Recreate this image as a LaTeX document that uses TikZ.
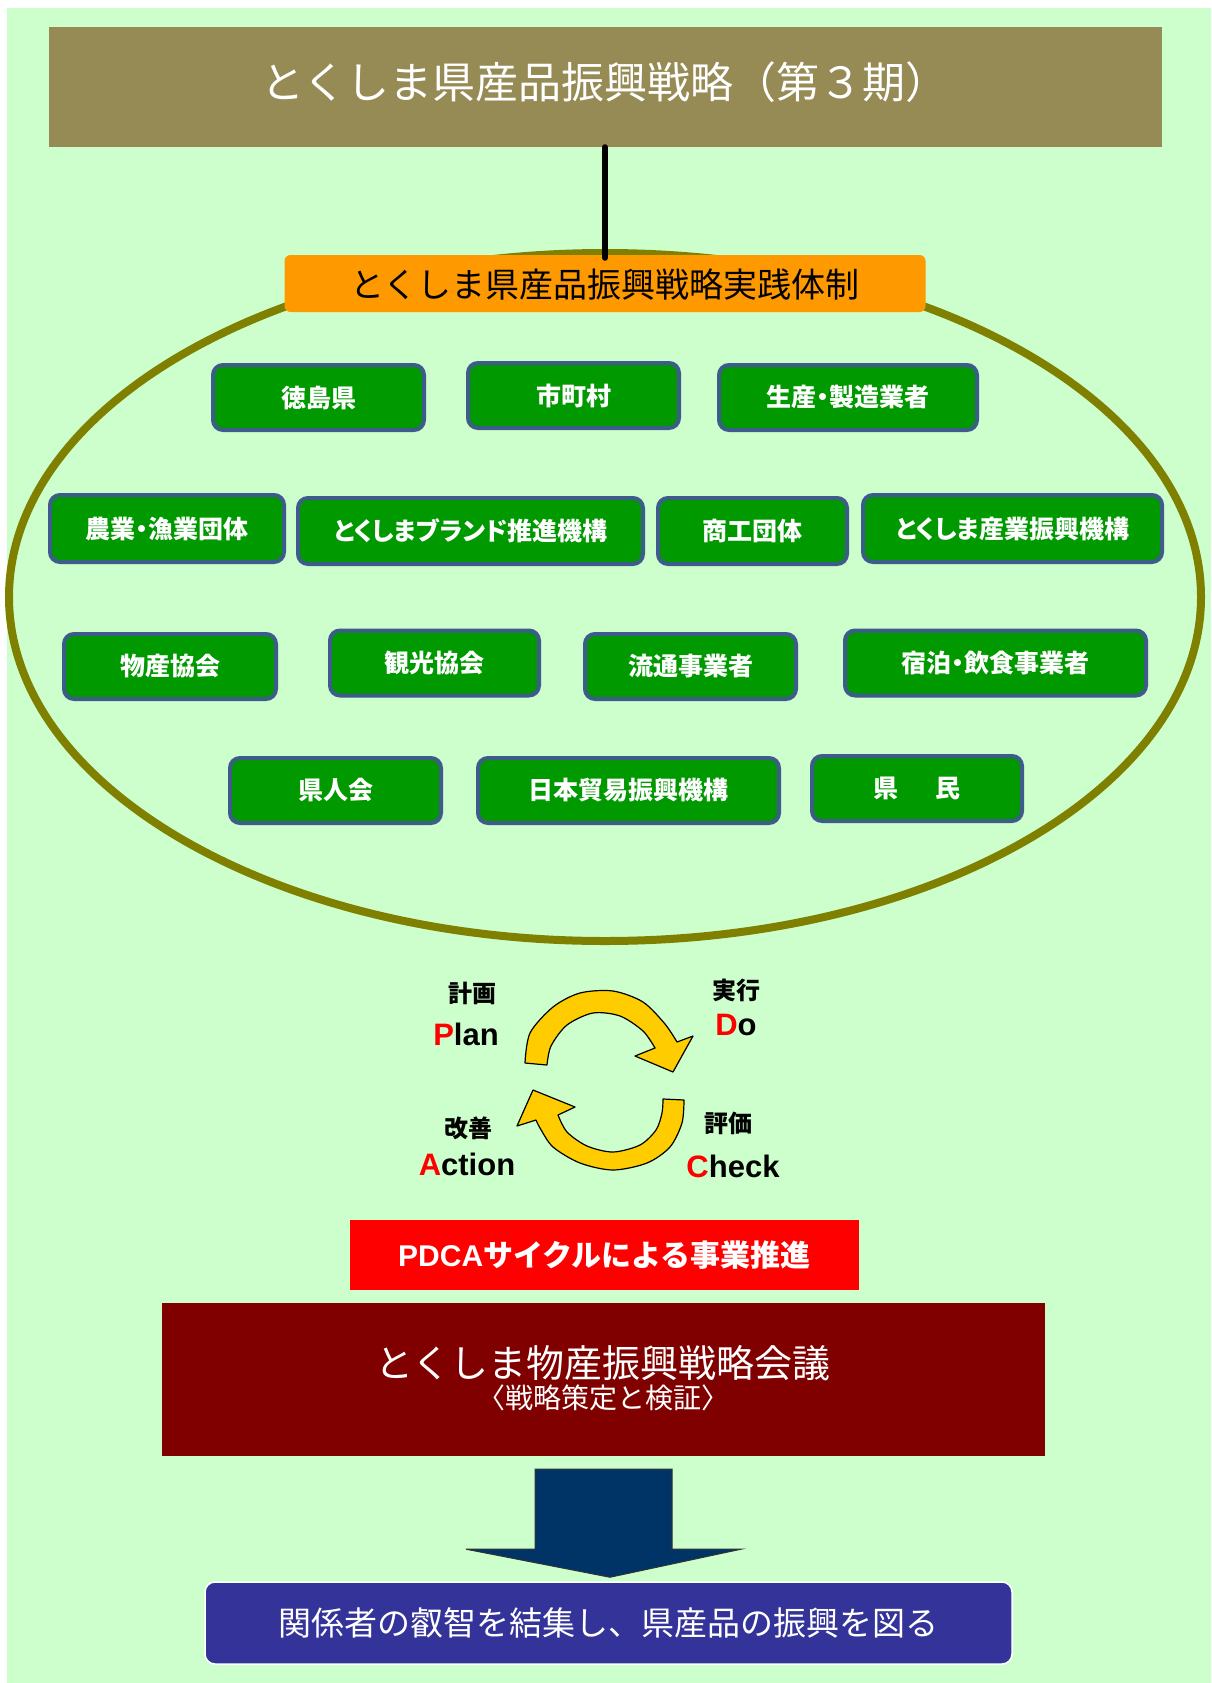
\documentclass[tikz,border=0pt]{standalone}
\usepackage{fontspec}
\setmainfont{Noto Sans CJK JP}
\newfontfamily\lat{Liberation Sans}
\newfontfamily\jpp[RawFeature={+palt}]{Noto Sans CJK JP}
\usetikzlibrary{shapes.geometric}
\definecolor{bggreen}{HTML}{CCFFCC}
\definecolor{titlebg}{HTML}{968A55}
\definecolor{orangebg}{HTML}{FF9900}
\definecolor{ringcol}{HTML}{808000}
\definecolor{gfill}{HTML}{009900}
\definecolor{gborder}{HTML}{3E5C8A}
\definecolor{redbg}{HTML}{FF0000}
\definecolor{darkred}{HTML}{800000}
\definecolor{navy}{HTML}{003366}
\definecolor{bluebg}{HTML}{333399}
\definecolor{arrowyellow}{HTML}{FFCC00}
\newcommand{\fs}[1]{\fontsize{#1pt}{#1pt}\selectfont}
\begin{document}
\begin{tikzpicture}[x=1pt,y=-1pt,
  gbox/.style={draw=gborder, line width=4pt, fill=gfill, rounded corners=10pt,
    text=white, font=\jpp\bfseries\fs{25}, inner sep=0pt, minimum height=65pt},
  pdcajp/.style={font=\bfseries\fs{24}, text=black, inner sep=0pt},
  pdcaen/.style={font=\lat\bfseries\fs{31}, text=black, inner sep=0pt, anchor=base},
  yarrow/.style={fill=arrowyellow, draw=black, line width=1.2pt, line join=round}
]
\useasboundingbox (0,0) rectangle (1211,1683);
\fill[white] (0,0) rectangle (1211,1683);
\fill[bggreen] (7,8) rectangle (1211,1683);

% title
\node[fill=titlebg, minimum width=1113pt, minimum height=120pt, inner sep=0pt] (title) at (605,87) {};
\node[text=white, font=\fs{43}, inner sep=0pt] (titletext) at (605,82) {とくしま県産品振興戦略（第３期）};

% ring
\node[draw=ringcol, line width=8pt, ellipse, minimum width=1192pt, minimum height=688pt, inner sep=0pt] (ring) at (605,597) {};

% orange box
\node[fill=orangebg, rounded corners=6pt, minimum width=641pt, minimum height=57pt, inner sep=0pt] (orange) at (605,283.5) {};
\node[text=black, font=\fs{34}, inner sep=0pt] (orangetext) at (605,285) {とくしま県産品振興戦略実践体制};
\draw[line width=6pt, line cap=round] (title.south) -- ([yshift=-3pt]orange.north);

% green boxes
\node[gbox, minimum width=211pt] (b1) at (318.5,397.5) {徳島県};
\node[gbox, minimum width=211pt] (b2) at (573.5,395.5) {市町村};
\node[gbox, minimum width=258pt] (b3) at (848,397.5) {生産・製造業者};
\node[gbox, minimum width=234pt, minimum height=67pt] (b4) at (167,528.5) {農業・漁業団体};
\node[gbox, minimum width=345pt, minimum height=66pt] (b5) at (470.5,531) {とくしまブランド推進機構};
\node[gbox, minimum width=189pt, minimum height=66pt] (b6) at (752.5,531) {商工団体};
\node[gbox, minimum width=299pt, minimum height=67pt] (b7) at (1012.5,528.5) {とくしま産業振興機構};
\node[gbox, minimum width=212pt] (b8) at (170,666.5) {物産協会};
\node[gbox, minimum width=209pt] (b9) at (434.5,663) {観光協会};
\node[gbox, minimum width=211pt] (b10) at (690.5,666.5) {流通事業者};
\node[gbox, minimum width=301pt] (b11) at (995.5,663) {宿泊・飲食事業者};
\node[gbox, minimum width=211pt] (b12) at (335.5,790.5) {県人会};
\node[gbox, minimum width=301pt] (b13) at (628.5,790.5) {日本貿易振興機構};
\node[gbox, minimum width=210pt] (b14) at (917,788.5) {県　\kern12pt民};

% PDCA cycle arrows
\filldraw[yarrow] plot[smooth] coordinates {(525,1063) (530,1033) (553,1007) (580,993) (613,991) (643,1002) (665,1024) (677,1042)}
  -- (693,1036) -- (673,1072) -- (635,1056) --
  plot[smooth] coordinates {(655,1048) (643,1031) (620,1016) (593,1013) (567,1025) (551,1046) (547,1065)} -- cycle;
\filldraw[yarrow] plot[smooth] coordinates {(684,1100) (682,1123) (670,1147) (647,1163) (613,1170) (580,1163) (553,1147) (540,1128) (536,1120)}
  -- (517,1126) -- (533,1090) -- (575,1107) --
  plot[smooth] coordinates {(558,1115) (567,1132) (587,1146) (613,1152) (640,1145) (656,1130) (662,1113) (663,1099)} -- cycle;

% PDCA labels
\node[pdcajp] (keikaku) at (472,993) {計画};
\node[pdcaen] (plan) at (466,1045) {\textcolor{red}{P}lan};
\node[pdcajp] (jikko) at (736,990) {実行};
\node[pdcaen] (do) at (736,1035) {\textcolor{red}{D}o};
\node[pdcajp] (kaizen) at (468,1128) {改善};
\node[pdcaen] (action) at (467,1175) {\textcolor{red}{A}ction};
\node[pdcajp] (hyoka) at (728,1123) {評価};
\node[pdcaen] (check) at (733,1177) {\textcolor{red}{C}heck};

% PDCA box
\node[fill=redbg, minimum width=509pt, minimum height=70pt, inner sep=0pt, text=white, font=\bfseries\fs{30}] (pdca) at (604.5,1255) {{\lat PDCA}サイクルによる事業推進};

% council box
\node[fill=darkred, minimum width=883pt, minimum height=153pt, inner sep=0pt] (council) at (603.5,1379.5) {};
\node[text=white, font=\fs{38}, inner sep=0pt] (counciltext) at (603,1363) {とくしま物産振興戦略会議};
\node[text=white, font=\fs{28}, inner sep=0pt] (councilsub) at (603,1398) {〈戦略策定と検証〉};

% result box
\node[fill=bluebg, draw=white, line width=1.5pt, rounded corners=10pt, minimum width=807pt, minimum height=82pt, inner sep=0pt, text=white, font=\fs{33}] (result) at (608.5,1623) {関係者の叡智を結集し、県産品の振興を図る};

% big down arrow
\filldraw[fill=navy, draw=black!80, line width=1pt, line join=miter]
  ([xshift=-68.5pt,yshift=-13pt]council.south) -- ([xshift=68.5pt,yshift=-13pt]council.south)
  -- ([xshift=68.5pt,yshift=-93pt]council.south) -- ([xshift=137.5pt,yshift=-93pt]council.south)
  -- ([xshift=1.5pt,yshift=4pt]result.north) -- ([xshift=-137.5pt,yshift=-93pt]council.south)
  -- ([xshift=-68.5pt,yshift=-93pt]council.south) -- cycle;
\end{tikzpicture}
\end{document}
